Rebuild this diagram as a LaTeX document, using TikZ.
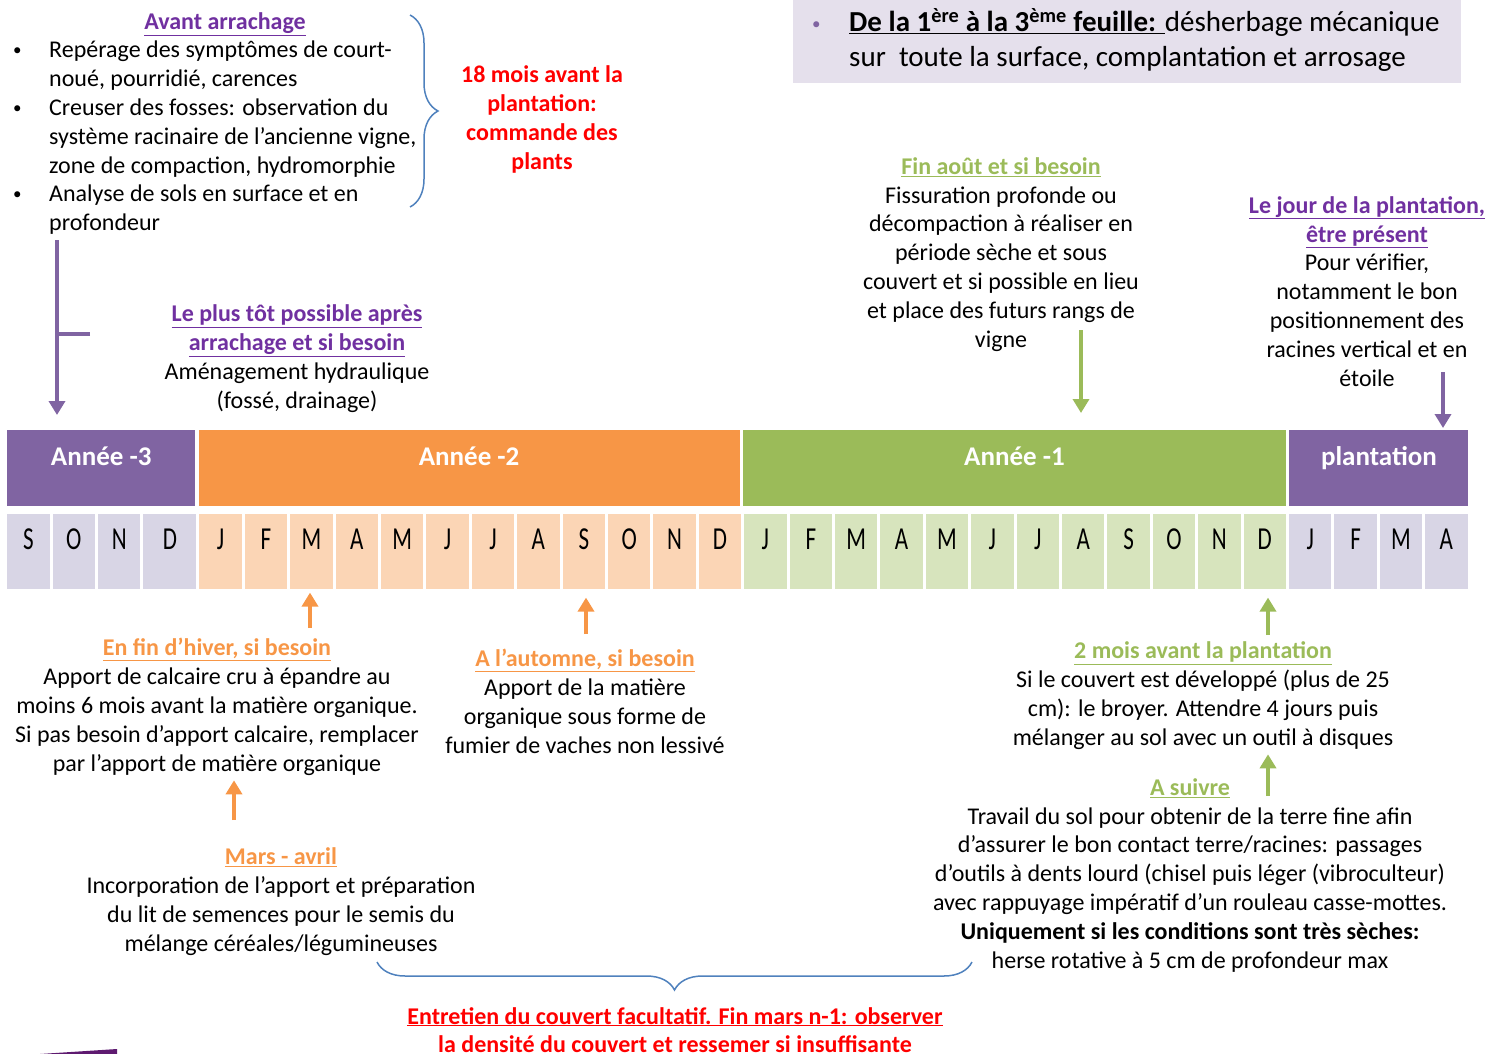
\documentclass[tikz,border=0pt]{standalone}
\usepackage{fontspec}
\setmainfont{Carlito}
\newfontfamily\moisfont[FakeStretch=0.72]{Carlito}
\usepackage{tikz}
\usetikzlibrary{positioning,arrows.meta,matrix,decorations.pathreplacing}
\definecolor{mauve}{HTML}{8064A2}
\definecolor{prune}{HTML}{7030A0}
\definecolor{orangeAn}{HTML}{F79646}
\definecolor{vertAn}{HTML}{9BBB59}
\definecolor{rouge}{HTML}{FF0000}
\definecolor{bleuAcc}{HTML}{4F81BD}
\definecolor{lavande}{HTML}{E5E0EC}
\definecolor{lavmois}{HTML}{D8D5E5}
\definecolor{peche}{HTML}{FBD5B5}
\definecolor{vertclair}{HTML}{D7E4BD}
\definecolor{logo}{HTML}{5E1A70}
\newcommand{\titre}[2]{\textcolor{#1}{\underline{\textbf{#2}}}}
\newcommand{\puce}{\raisebox{2pt}{\fontsize{17}{17}\selectfont •}}
\tikzset{
>={Triangle[width=16pt,length=14pt]},
annee/.style={minimum height=76pt,inner sep=0pt,text=white,font=\fontsize{27}{30}\selectfont\bfseries,text height=17.4pt,text depth=22pt},
mois/.style={minimum width=42.4pt,minimum height=75pt,inner sep=0pt,text height=21pt,text depth=26.4pt,font=\moisfont\fontsize{32}{32}\selectfont},
mv/.style={mois,fill=lavmois},
mo/.style={mois,fill=peche},
mg/.style={mois,fill=vertclair},
texte/.style={align=center,inner sep=0pt,anchor=base,font=\fontsize{24}{28.8}\selectfont},
fleche/.style={->,line width=3.5pt},
accolade/.style={draw=bleuAcc,line width=1.5pt,decorate,decoration={brace,amplitude=28pt}}
}

\begin{document}
\begin{tikzpicture}[x=1pt,y=-1pt]
\useasboundingbox (0,0) rectangle (1496,1054);

% avant arrachage
\node[texte] (titreAvant) at (225,30) {\titre{prune}{Avant arrachage}};
\node[texte,anchor=base west,align=left] (avant) at (13,58) {\begin{tabular}[t]{@{}p{36pt}@{}l@{}}
\puce & Repérage des symptômes de court-\\
 & noué, pourridié, carences\\
\puce & Creuser des fosses: observation du\\
 & système racinaire de l’ancienne vigne,\\
 & zone de compaction, hydromorphie\\
\puce & Analyse de sols en surface et en\\
 & profondeur
\end{tabular}};
\coordinate (accH) at (410,15);
\coordinate (accB) at (410,207);
\draw[accolade] (accH) -- (accB);
\node[texte,text=rouge,font=\fontsize{24}{28.8}\selectfont\bfseries] (commande) at (542,169) {18 mois avant la\\plantation:\\commande des\\plants};

% encadre feuille
\fill[lavande] (793,0) rectangle (1461,83);
\node[texte,anchor=base west,align=left,font=\fontsize{29}{35}\selectfont] (feuille) at (812,32) {\begin{tabular}[t]{@{}p{37pt}@{}l@{}}
\textcolor{mauve}{\puce} & \underline{\textbf{De la 1\textsuperscript{ère} à la 3\textsuperscript{ème} feuille: }}désherbage mécanique\\
 & sur~ toute la surface, complantation et arrosage
\end{tabular}};

% au-dessus de la frise
\node[texte] (plusTot) at (297,408) {\titre{prune}{Le plus tôt possible après}\\\titre{prune}{arrachage et si besoin}\\Aménagement hydraulique\\(fossé, drainage)};
\node[texte] (aout) at (1001,347) {\titre{vertAn}{Fin août et si besoin}\\Fissuration profonde ou\\décompaction à réaliser en\\période sèche et sous\\couvert et si possible en lieu\\et place des futurs rangs de\\vigne};
\node[texte] (jour) at (1367,386) {\titre{prune}{Le jour de la plantation,}\\\titre{prune}{être présent}\\Pour vérifier,\\notamment le bon\\positionnement des\\racines vertical et en\\étoile};

% frise des annees
\node[annee,fill=mauve,minimum width=188pt,anchor=north west] (an3) at (7,430) {Année -3};
\node[annee,fill=orangeAn,minimum width=541pt,right=3pt of an3] (an2) {Année -2};
\node[annee,fill=vertAn,minimum width=543pt,right=3pt of an2] (an1) {Année -1};
\node[annee,fill=mauve,minimum width=179pt,right=3pt of an1] (plant) {plantation};

% mois
\matrix[anchor=north west,column sep=3pt,inner sep=0pt] (mois) at (7,514) {
\node[mv] (m1) {S}; & \node[mv] (m2) {O}; & \node[mv] (m3) {N}; & \node[mv,minimum width=53pt] (m4) {D}; &
\node[mo] (m5) {J}; & \node[mo] (m6) {F}; & \node[mo] (m7) {M}; & \node[mo] (m8) {A}; & \node[mo] (m9) {M}; & \node[mo] (m10) {J}; &
\node[mo] (m11) {J}; & \node[mo] (m12) {A}; & \node[mo] (m13) {S}; & \node[mo] (m14) {O}; & \node[mo] (m15) {N}; & \node[mo] (m16) {D}; &
\node[mg] (m17) {J}; & \node[mg] (m18) {F}; & \node[mg] (m19) {M}; & \node[mg] (m20) {A}; & \node[mg] (m21) {M}; & \node[mg] (m22) {J}; &
\node[mg] (m23) {J}; & \node[mg] (m24) {A}; & \node[mg] (m25) {S}; & \node[mg] (m26) {O}; & \node[mg] (m27) {N}; & \node[mg] (m28) {D}; &
\node[mv] (m29) {J}; & \node[mv] (m30) {F}; & \node[mv] (m31) {M}; & \node[mv] (m32) {A}; \\
};

% sous la frise
\node[texte] (hiver) at (217,771) {\titre{orangeAn}{En fin d’hiver, si besoin}\\Apport de calcaire cru à épandre au\\moins 6 mois avant la matière organique.\\Si pas besoin d’apport calcaire, remplacer\\par l’apport de matière organique};
\node[texte] (mars) at (281,951) {\titre{orangeAn}{Mars - avril}\\Incorporation de l’apport et préparation\\du lit de semences pour le semis du\\mélange céréales/légumineuses};
\node[texte] (automne) at (585,753) {\titre{orangeAn}{A l’automne, si besoin}\\Apport de la matière\\organique sous forme de\\fumier de vaches non lessivé};
\node[texte] (deuxMois) at (1203,745) {\titre{vertAn}{2 mois avant la plantation}\\Si le couvert est développé (plus de 25\\cm): le broyer. Attendre 4 jours puis\\mélanger au sol avec un outil à disques};
\node[texte] (suivre) at (1190,968) {\titre{vertAn}{A suivre}\\Travail du sol pour obtenir de la terre fine afin\\d’assurer le bon contact terre/racines: passages\\d’outils à dents lourd (chisel puis léger (vibroculteur)\\avec rappuyage impératif d’un rouleau casse-mottes.\\\textbf{Uniquement si les conditions sont très sèches:}\\herse rotative à 5 cm de profondeur max};
\coordinate (accG) at (377,962);
\coordinate (accD) at (972,962);
\draw[accolade] (accD) -- (accG);
\node[texte,text=rouge,font=\fontsize{24}{28}\selectfont\bfseries] (entretien) at (675,1052) {\underline{Entretien du couvert facultatif. Fin mars n-1: observer}\\la densité du couvert et ressemer si insuffisante};

% fleches
\coordinate (arrF) at (57,240);
\coordinate (branche) at (90,334);
\draw[fleche,mauve,shorten >=15pt] (arrF) -- (arrF |- an3.north);
\draw[line width=3.5pt,mauve] (branche) -- (branche -| arrF);
\coordinate (aoutF) at (1081,330);
\draw[fleche,vertAn,shorten >=17pt] (aoutF) -- (aoutF |- an1.north);
\coordinate (jourF) at (1443,372);
\draw[fleche,mauve,shorten >=2pt] (jourF) -- (jourF |- plant.north);
\coordinate (hiverF) at (310,628);
\draw[fleche,orangeAn,shorten >=3pt] (hiverF) -- (hiverF |- m7.south);
\coordinate (marsF) at (234,820);
\draw[fleche,orangeAn,shorten >=5pt] (marsF) -- (marsF |- hiver.south);
\coordinate (automneF) at (586,634);
\draw[fleche,orangeAn,shorten >=8pt] (automneF) -- (automneF |- m13.south);
\coordinate (deuxF) at (1268,635);
\draw[fleche,vertAn,shorten >=8pt] (deuxF) -- (deuxF |- m28.south);
\coordinate (suivreF) at (1268,796);
\draw[fleche,vertAn,shorten >=5pt] (suivreF) -- (suivreF |- deuxMois.south);

% bout de logo
\fill[logo] (40,1054) -- (117,1049) -- (117,1054) -- cycle;
\end{tikzpicture}
\end{document}
